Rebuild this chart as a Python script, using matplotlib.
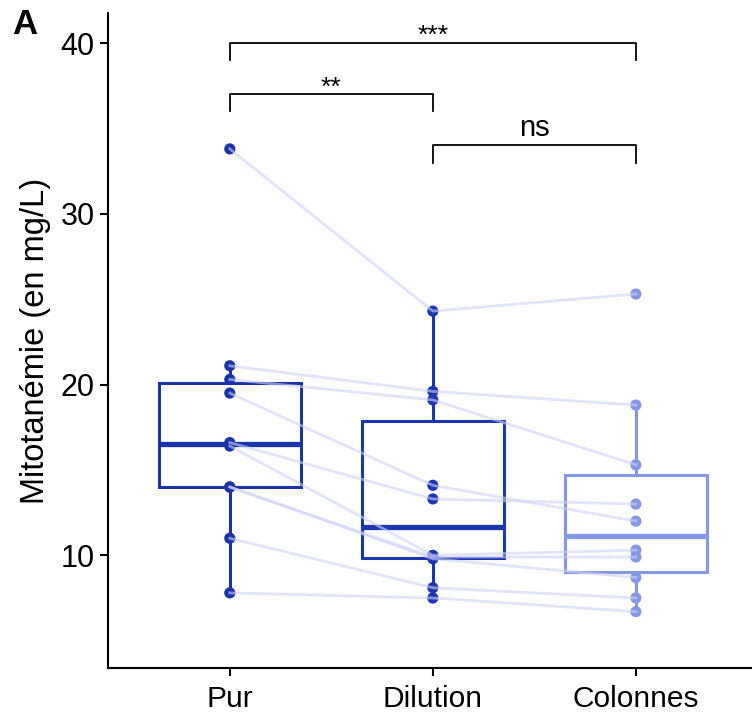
import matplotlib
matplotlib.use("Agg")
import matplotlib.pyplot as plt
import numpy as np

plt.rcParams['font.family'] = ['Liberation Sans', 'DejaVu Sans']

categories = ["Pur", "Dilution", "Colonnes"]
pur = [33.8, 21.1, 20.3, 19.5, 16.6, 16.4, 14.0, 14.0, 11.0, 7.8]
dilution = [24.3, 19.6, 19.1, 14.1, 13.3, 10.0, 9.9, 9.8, 8.1, 7.5]
colonnes = [25.3, 18.8, 15.3, 12.0, 13.0, 10.3, 9.9, 8.7, 7.5, 6.7]
series = [pur, dilution, colonnes]
colors = ["#1a33a6", "#1c36b0", "#8497e6"]
yticks = [10, 20, 30, 40]
comparisons = [(0, 2, 40.0, "***"), (0, 1, 37.0, "**"), (1, 2, 34.0, "ns")]

fig = plt.figure(figsize=(7.52, 7.13), dpi=100)
ax = fig.add_axes([0.1436, 0.0631, 0.8564, 0.9187])

positions = np.arange(1, len(categories) + 1)

for i, (vals, c) in enumerate(zip(series, colors)):
    ax.boxplot([vals], positions=[positions[i]], widths=0.7, whis=1.5,
               showfliers=False, showcaps=False, patch_artist=True,
               boxprops=dict(facecolor="none", edgecolor=c, linewidth=2.2),
               whiskerprops=dict(color=c, linewidth=2.2),
               medianprops=dict(color=c, linewidth=3.8, solid_capstyle="butt"),
               zorder=2)
    ax.scatter(np.full(len(vals), positions[i]), vals, s=65, color=c,
               zorder=3, edgecolors="none")

# paired lines
data = np.array(series)
for j in range(data.shape[1]):
    ax.plot(positions, data[:, j], color="#cdd2f6", alpha=0.6,
            linewidth=2.0, zorder=4)

# significance brackets
for a, b, y, lab in comparisons:
    xa, xb = positions[a], positions[b]
    ax.plot([xa, xa, xb, xb], [y - 1.0, y, y, y - 1.0], color="black",
            linewidth=1.3, zorder=5)
    if "*" in lab:
        ax.text((xa + xb) / 2, y - 0.3, lab, ha="center", va="bottom",
                fontsize=19, zorder=5)
    else:
        ax.text((xa + xb) / 2, y + 0.2, lab, ha="center", va="bottom",
                fontsize=21, zorder=5)

ax.set_xlim(0.4, 3.572)
ax.set_ylim(3.4, 41.76)
ax.set_xticks(positions)
ax.set_xticklabels(categories, fontsize=21.5)
ax.set_yticks(yticks)
ax.set_yticklabels([str(t) for t in yticks], fontsize=22)
ax.set_ylabel("Mitotanémie (en mg/L)", fontsize=23.5, labelpad=7)

for s in ["top", "right"]:
    ax.spines[s].set_visible(False)
for s in ["left", "bottom"]:
    ax.spines[s].set_linewidth(1.5)
ax.tick_params(axis="both", width=1.5, length=6, colors="black")
ax.tick_params(axis="x", pad=6)

fig.text(0.016, 0.965, "A", fontsize=25, fontweight="bold", ha="left", va="center")

fig.savefig("out.png", dpi=100)
